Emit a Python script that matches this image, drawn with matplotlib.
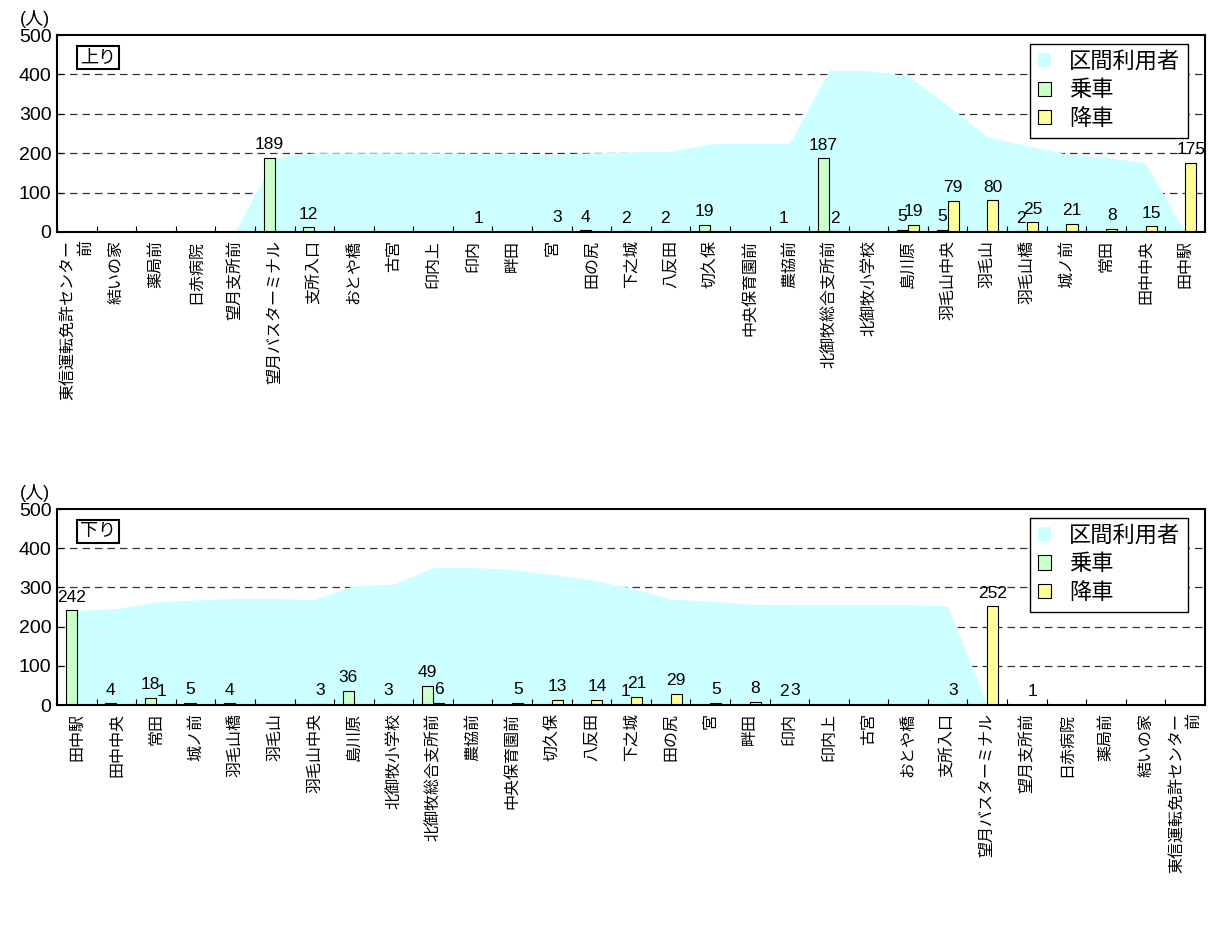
import matplotlib.pyplot as plt
import numpy as np

plt.rcParams['font.family'] = ['Liberation Sans', 'Noto Sans CJK JP']

# 上り (outbound toward 田中駅)
up_stops = ['東信運転免許センター\n前', '結いの家', '薬局前', '日赤病院', '望月支所前',
            '望月バスターミナル', '支所入口', 'おとや橋', '古宮', '印内上', '印内', '畔田',
            '宮', '田の尻', '下之城', '八反田', '切久保', '中央保育園前', '農協前',
            '北御牧総合支所前', '北御牧小学校', '島川原', '羽毛山中央', '羽毛山',
            '羽毛山橋', '城ノ前', '常田', '田中中央', '田中駅']
up_board = [0, 0, 0, 0, 0, 189, 12, 0, 0, 0, 0, 0, 0, 4, 2, 2, 19, 0, 1, 187,
            0, 5, 5, 0, 2, 0, 0, 0, 0]
up_alight = [0, 0, 0, 0, 0, 0, 0, 0, 0, 0, 1, 0, 3, 0, 0, 0, 0, 0, 0, 2,
             0, 19, 79, 80, 25, 21, 8, 15, 175]
up_load = [0, 0, 0, 0, 0, 189, 201, 201, 201, 201, 200, 200, 197, 201, 203, 205,
           224, 224, 225, 410, 410, 396, 322, 242, 219, 198, 190, 175, 0]

# 下り
down_stops = ['田中駅', '田中中央', '常田', '城ノ前', '羽毛山橋', '羽毛山', '羽毛山中央',
              '島川原', '北御牧小学校', '北御牧総合支所前', '農協前', '中央保育園前',
              '切久保', '八反田', '下之城', '田の尻', '宮', '畔田', '印内', '印内上',
              '古宮', 'おとや橋', '支所入口', '望月バスターミナル', '望月支所前',
              '日赤病院', '薬局前', '結いの家', '東信運転免許センター\n前']
down_board = [242, 4, 18, 5, 4, 0, 0, 36, 3, 49, 0, 0, 0, 0, 1, 0, 0, 0, 2,
              0, 0, 0, 0, 0, 0, 0, 0, 0, 0]
down_alight = [0, 0, 1, 0, 0, 0, 3, 0, 0, 6, 0, 5, 13, 14, 21, 29, 5, 8, 3,
               0, 0, 0, 3, 252, 1, 0, 0, 0, 0]
down_load = [242, 246, 263, 268, 272, 272, 269, 305, 308, 351, 351, 346, 333, 319,
             299, 270, 265, 257, 256, 256, 256, 256, 253, 1, 0, 0, 0, 0, 0]

W, H = 1211, 934
fig = plt.figure(figsize=(W / 100, H / 100), dpi=100)


def add_ax(left, top, right, bottom):
    return fig.add_axes([left / W, 1 - bottom / H, (right - left) / W, (bottom - top) / H])


def draw_panel(ax, stops, board, alight, load, tag):
    n = len(stops)
    x = np.arange(n) + 0.5
    ax.set_xlim(0, n)
    ax.set_ylim(0, 500)

    for yv in (100, 200, 300, 400):
        ax.axhline(yv, color='#333333', lw=0.9, ls=(0, (6, 4)), zorder=0)

    ax.fill_between(x, load, color='#CCFFFF', lw=0, zorder=1, label='区間利用者')
    w = 0.28
    ax.bar(x - w / 2, board, w, color='#CCFFCC', edgecolor='black', lw=0.8,
           zorder=2, label='乗車')
    ax.bar(x + w / 2, alight, w, color='#FFFF99', edgecolor='black', lw=0.8,
           zorder=2, label='降車')

    for xs, vals in ((x - w / 2, board), (x + w / 2, alight)):
        for xi, v in zip(xs, vals):
            if v:
                ax.annotate(str(v), (xi, v), xytext=(0, 4), textcoords='offset points',
                            ha='center', va='bottom', fontsize=12.5, zorder=3,
                            annotation_clip=False)

    ax.set_xticks(np.arange(n + 1))
    ax.set_xticklabels([])
    ax.set_xticks(x, minor=True)
    ax.set_xticklabels(stops, minor=True, rotation=90, va='top', ha='center',
                       fontsize=11.5, multialignment='right')
    ax.tick_params(axis='x', which='major', direction='in', length=4, width=0.8)
    ax.tick_params(axis='x', which='minor', length=0, pad=6)
    ax.set_yticks(range(0, 501, 100))
    ax.tick_params(axis='y', direction='in', length=4, width=0.8, labelsize=14, pad=4)
    for s in ax.spines.values():
        s.set_linewidth(1.5)
        s.set_color('black')

    ax.text(0.02, 0.885, tag, transform=ax.transAxes, fontsize=13, va='center', ha='left',
            zorder=5, bbox=dict(boxstyle='square,pad=0.15', fc='white', ec='black', lw=1.5))

    leg = ax.legend(loc='upper right', bbox_to_anchor=(0.985, 0.955), fontsize=16,
                    frameon=True, fancybox=False, edgecolor='black', framealpha=1,
                    borderpad=0.35, labelspacing=0.35, handlelength=0.6, handleheight=0.6,
                    handletextpad=0.8, borderaxespad=0)
    leg.get_frame().set_linewidth(1.0)
    leg.set_zorder(6)


ax1 = add_ax(57, 35, 1205, 232)
draw_panel(ax1, up_stops, up_board, up_alight, up_load, '上り')
fig.text(35 / W, 1 - 19 / H, '(人)', ha='center', va='center', fontsize=13)

ax2 = add_ax(57, 509, 1205, 705)
draw_panel(ax2, down_stops, down_board, down_alight, down_load, '下り')
fig.text(35 / W, 1 - 493 / H, '(人)', ha='center', va='center', fontsize=13)

fig.savefig('out.png', dpi=100)
